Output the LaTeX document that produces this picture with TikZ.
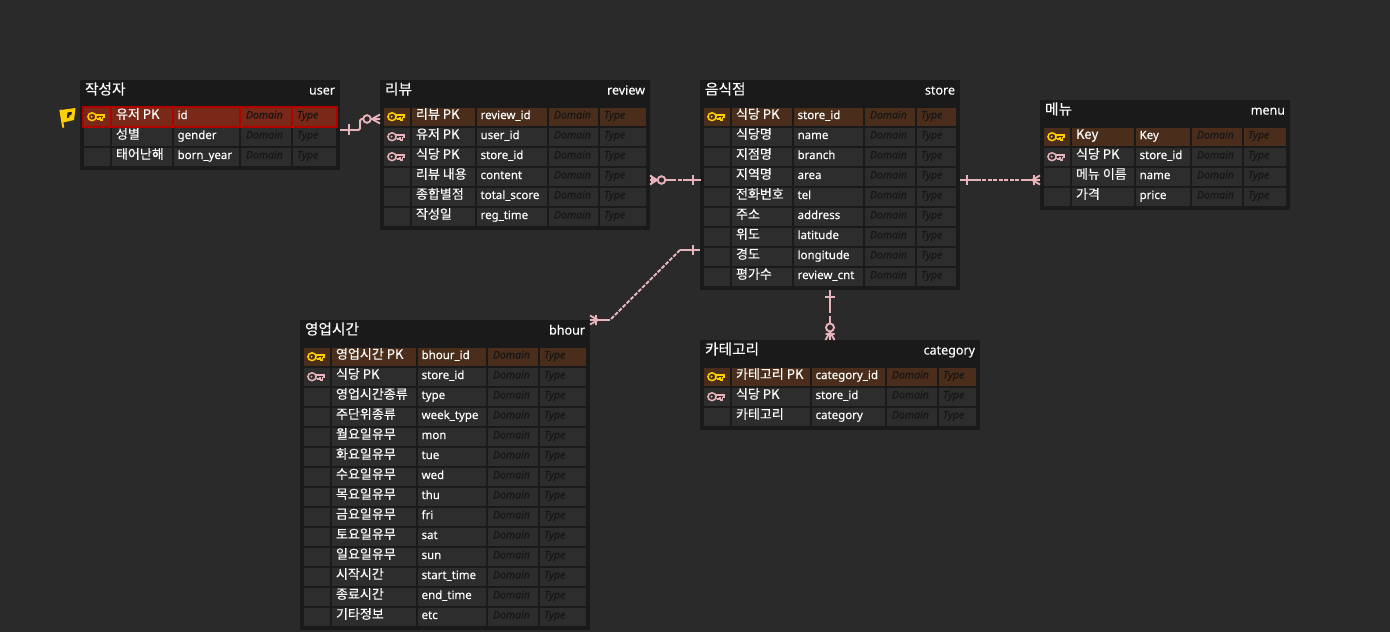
\documentclass[tikz,border=0pt]{standalone}
\usepackage{fontspec}
\setmainfont[FakeBold=0.12]{Noto Sans}
\newfontfamily\kofont[FakeBold=0.12]{Noto Sans CJK KR}
\usetikzlibrary{calc}
\definecolor{bgc}{HTML}{2A2A2A}
\definecolor{tablec}{HTML}{1A1A1A}
\definecolor{rowN}{HTML}{2D2D2D}
\colorlet{rowF}{rowN}
\definecolor{rowP}{HTML}{4A2E1B}
\definecolor{rowR}{HTML}{7A2818}
\definecolor{redline}{HTML}{B00000}
\definecolor{hint}{HTML}{161616}
\definecolor{keyP}{HTML}{FFD000}
\definecolor{keyF}{HTML}{E8B4BC}
\definecolor{linkc}{HTML}{E8B4BC}
\tikzset{
  x=1pt,y=-1pt,
  tablebox/.style={fill=tablec,draw=none,inner sep=0,outer sep=0,anchor=north west},
  cellbox/.style={draw=none,inner sep=0,outer sep=0,anchor=north west,minimum height=18.4pt},
  txt/.style={inner sep=0,outer sep=0,anchor=base west,text=white,font=\fontsize{11.5}{13}\selectfont},
  kotxt/.style={txt,font=\kofont\fontsize{13}{14}\selectfont},
  hinttxt/.style={txt,text=hint,font=\fontsize{10.5}{12}\selectfont\itshape},
  rel/.style={draw=linkc,line width=1.9pt},
  reldash/.style={rel,dash pattern=on 4pt off 1.5pt},
  knob/.style={rel,fill=bgc},
}
\newcommand\keyicon[3]{%
  \begin{scope}[shift={(#1,#2)}]
    \draw[draw=#3,line width=1.5pt] (-4,0) ellipse[x radius=4.1pt,y radius=3.9pt];
    \fill[#3] (-4.4,0) circle[radius=1.1pt];
    \draw[draw=#3,line width=1.4pt,line join=miter] (0,-1.8) -- (8,-1.8) -- (8,0.8) -- (6.4,0.8) -- (6.4,3.2) -- (4.6,3.2) -- (4.6,0.8) -- (3.4,0.8) -- (3.4,2.6) -- (1.8,2.6) -- (1.8,1.6) -- (0,1.6);
  \end{scope}}
\def\kP{P}\def\kR{R}\def\kF{F}
\def\parsecols#1/#2/#3/#4/#5/#6\relax{\def\colA{#1}\def\colB{#2}\def\colC{#3}\def\colD{#4}\def\colE{#5}\def\colF{#6}}
\newcommand\ertable[9]{%
  \pgfmathsetmacro\tabW{#4-#2}\pgfmathsetmacro\tabH{#5-#3}%
  \node[tablebox,minimum width=\tabW pt,minimum height=\tabH pt] (#1) at (#2,#3) {};
  \pgfmathsetmacro\tby{#3+14.5}\pgfmathsetmacro\tex{#4-5}\pgfmathsetmacro\tkx{#2+5}%
  \node[kotxt,font=\kofont\fontsize{14.7}{16}\selectfont] (#1-ko) at (\tkx,\tby) {#6};
  \node[txt,anchor=base east,font=\fontsize{12.5}{15}\selectfont] (#1-en) at (\tex,\tby) {#7};
  \parsecols#8\relax
  \foreach \kd/\nm/\lgc [count=\i from 0] in {#9} {
    \pgfmathsetmacro\rowY{#3+28+20*\i}\pgfmathsetmacro\baseY{\rowY+11}%
    \ifx\kd\kR
      \pgfmathsetmacro\barX{#2+2}\pgfmathsetmacro\barW{#4-#2-4}\pgfmathsetmacro\barT{\rowY-1.6}%
      \node[cellbox,fill=redline,minimum width=\barW pt,minimum height=21.6pt] (#1-\i-bar) at (\barX,\barT) {};
    \fi
    \pgfmathsetmacro\wdA{\colB-\colA}\pgfmathsetmacro\xxB{\colB+2}\pgfmathsetmacro\wdB{\colC-\xxB}%
    \pgfmathsetmacro\xxC{\colC+2}\pgfmathsetmacro\wdC{\colD-\xxC}\pgfmathsetmacro\xxD{\colD+2}\pgfmathsetmacro\wdD{\colE-\xxD}%
    \pgfmathsetmacro\xxE{\colE+2}\pgfmathsetmacro\wdE{\colF-\xxE}%
    \node[cellbox,fill=row\kd,minimum width=\wdA pt] (#1-\i-a) at (\colA,\rowY) {};
    \node[cellbox,fill=row\kd,minimum width=\wdB pt] (#1-\i-b) at (\xxB,\rowY) {};
    \node[cellbox,fill=row\kd,minimum width=\wdC pt] (#1-\i-c) at (\xxC,\rowY) {};
    \node[cellbox,fill=row\kd,minimum width=\wdD pt] (#1-\i-d) at (\xxD,\rowY) {};
    \node[cellbox,fill=row\kd,minimum width=\wdE pt] (#1-\i-e) at (\xxE,\rowY) {};
    \pgfmathsetmacro\keyX{\colA+12}\pgfmathsetmacro\keyY{\rowY+8.7}%
    \ifx\kd\kP \keyicon{\keyX}{\keyY}{keyP}\fi
    \ifx\kd\kR \keyicon{\keyX}{\keyY}{keyP}\fi
    \ifx\kd\kF \keyicon{\keyX}{\keyY}{keyF}\fi
    \pgfmathsetmacro\txB{\xxB+4}\pgfmathsetmacro\txC{\xxC+3.6}\pgfmathsetmacro\txD{\xxD+5}\pgfmathsetmacro\txE{\xxE+4}%
    \pgfmathsetmacro\koY{\baseY-0.2}\pgfmathsetmacro\hiY{\baseY-0.5}%
    \node[kotxt] (#1-\i-nm) at (\txB,\koY) {\nm};
    \node[txt] (#1-\i-lg) at (\txC,\baseY) {\lgc};
    \node[hinttxt] (#1-\i-dm) at (\txD,\hiY) {Domain};
    \node[hinttxt] (#1-\i-ty) at (\txE,\hiY) {Type};
  }
}
\begin{document}
\begin{tikzpicture}
\fill[bgc] (0,0) rectangle (1390,632);
\useasboundingbox (0,0) rectangle (1390,632);

\ertable{user}{80}{80}{340}{170}{작성자}{user}{84/110/172/239/291/336}{R/유저 PK/id,N/성별/gender,N/태어난해/born\_year}
\ertable{review}{380}{80}{650}{230}{리뷰}{review}{384/410/475/547/598/646}{P/리뷰 PK/review\_id,F/유저 PK/user\_id,F/식당 PK/store\_id,N/리뷰 내용/content,N/종합별점/total\_score,N/작성일/reg\_time}
\ertable{store}{700}{80}{960}{290}{음식점}{store}{704/730/792/863/915/956}{P/식당 PK/store\_id,N/식당명/name,N/지점명/branch,N/지역명/area,N/전화번호/tel,N/주소/address,N/위도/latitude,N/경도/longitude,N/평가수/review\_cnt}
\ertable{menu}{1040}{100}{1290}{210}{메뉴}{menu}{1044/1070/1134/1190/1242/1286}{P/Key/Key,F/식당 PK/store\_id,N/메뉴 이름/name,N/가격/price}
\ertable{bhour}{300}{320}{590}{630}{영업시간}{bhour}{304/330/416/486/538/586}{P/영업시간 PK/bhour\_id,F/식당 PK/store\_id,N/영업시간종류/type,N/주단위종류/week\_type,N/월요일유무/mon,N/화요일유무/tue,N/수요일유무/wed,N/목요일유무/thu,N/금요일유무/fri,N/토요일유무/sat,N/일요일유무/sun,N/시작시간/start\_time,N/종료시간/end\_time,N/기타정보/etc}
\ertable{category}{700}{340}{980}{430}{카테고리}{category}{704/730/810/885/937/976}{P/카테고리 PK/category\_id,F/식당 PK/store\_id,N/카테고리/category}

% flag
\fill[keyP] (59.4,110) -- (61.6,109.6) -- (64.2,127.5) -- (62.2,127.5) -- cycle;
\fill[keyP] (61,110) -- (75.5,108) -- (74,120) -- (63,122.5) -- cycle;
\fill[tablec] (67.5,112.5) -- (71.8,112) -- (71.2,115) -- (69.5,115.2) -- (69.2,117.5) -- (67,118) -- cycle;

% connectors
\coordinate (ua) at ([yshift=-50pt]user.north east);
\coordinate (ub) at ([yshift=-39pt]review.north west);
\draw[rel,rounded corners=1.5pt] (ua) -- (360,130) -- (360,119) -- (ub);
\draw[rel] (349,124) -- (349,135);
\draw[knob] (367,119) circle[radius=3.8pt];
\draw[rel] (372,119) -- (380,114.5) (372,119) -- (380,123.5);

\coordinate (ra) at ([yshift=-100pt]review.north east);
\coordinate (sa) at ([yshift=-100pt]store.north west);
\draw[reldash] (ra) -- (sa);
\draw[rel] (ra) -- (675,180) (686,180) -- (sa);
\draw[rel] (693,175) -- (693,185);
\draw[knob] (661.5,180) circle[radius=3.8pt];
\draw[rel] (657,180) -- (650,175.5) (657,180) -- (650,184.5) (652,176) -- (652,184);

\coordinate (sb) at ([yshift=-100pt]store.north east);
\coordinate (ma) at ([yshift=-80pt]menu.north west);
\draw[reldash] (sb) -- (ma);
\draw[rel] (sb) -- (980,180) (1022,180) -- (ma);
\draw[rel] (967,175) -- (967,185);
\draw[rel] (1032,180) -- (1040,175.5) (1032,180) -- (1040,184.5) (1034,175) -- (1034,185);

\coordinate (sc) at ([yshift=-170pt]store.north west);
\coordinate (ba) at (bhour.north east);
\draw[reldash] (680,250) -- (610,320);
\draw[rel,line join=round] (sc) -- (680,250) (610,320) -- (ba);
\draw[rel] (693,245) -- (693,255);
\draw[rel] (598,320) -- (590,315.5) (598,320) -- (590,324.5) (596,315) -- (596,325);

\coordinate (sd) at ([xshift=130pt]store.south west);
\coordinate (ca) at ([xshift=130pt]category.north west);
\draw[rel] (sd) -- (830,313) (830,316) -- (ca);
\draw[rel] (825,297) -- (835,297);
\draw[knob] (830,327.5) circle[radius=4pt];
\draw[rel] (830,332) -- (825.5,340) (830,332) -- (834.5,340) (825.5,334) -- (834.5,334);
\end{tikzpicture}
\end{document}
